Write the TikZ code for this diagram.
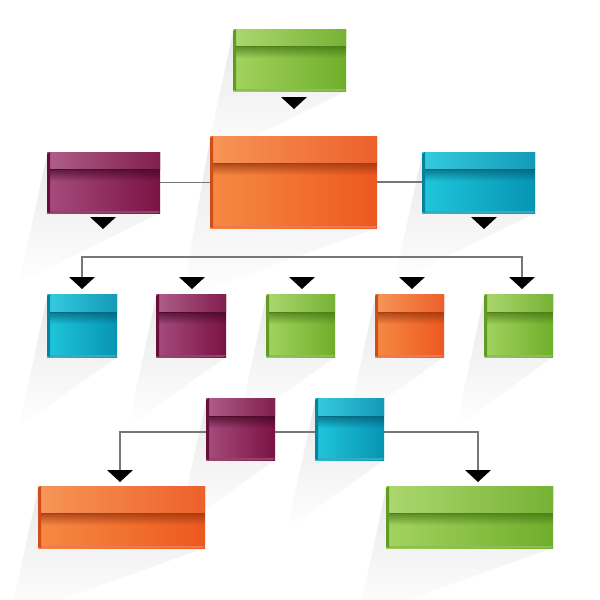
\documentclass[tikz,border=0pt]{standalone}
\usetikzlibrary{fadings,calc}
\pgfdeclarelayer{bg}
\pgfsetlayers{bg,main}
\definecolor{grnL}{HTML}{A3D35F}
\definecolor{grnR}{HTML}{6FAE2B}
\definecolor{grnD}{HTML}{3F6E12}
\definecolor{ornL}{HTML}{F68A45}
\definecolor{ornR}{HTML}{EC5820}
\definecolor{ornD}{HTML}{8E3008}
\definecolor{purL}{HTML}{A64C7E}
\definecolor{purR}{HTML}{7A1343}
\definecolor{purD}{HTML}{3E0620}
\definecolor{cynL}{HTML}{1FC6DC}
\definecolor{cynR}{HTML}{0794B3}
\definecolor{cynD}{HTML}{03586E}
\definecolor{lineC}{HTML}{777777}
\tikzfading[name=bandfade, top color=transparent!0, bottom color=transparent!100]
\tikzset{
  box/.style={rectangle, inner sep=0pt, outer sep=0pt, draw=none},
  conn/.style={lineC, line width=1.1pt},
}
% name, x1, y1, x2, y2, band, palette
\newcommand\orgbox[7]{%
  \begin{pgfonlayer}{bg}
    \fill[black, fill opacity=0.09, path fading=bandfade] (#2,#3+3) -- (#2-28,#5+70) -- (#4,#5) -- (#4,#3) -- cycle;
  \end{pgfonlayer}
  \node[box, left color=#7L, right color=#7R, minimum width={(#4-#2)*1pt}, minimum height={(#5-#3)*1pt}] (#1) at ({(#2+#4)/2},{(#3+#5)/2}) {};
  \shade[left color=#7L!90!white, right color=#7R!95!white] (#2,#3) rectangle (#4,#3+#6);
  \fill[#7D, opacity=.7, path fading=bandfade] (#2,#3+#6) rectangle (#4,#3+#6+12);
  \draw[#7D!70!#7R, line width=0.8pt] (#2,#3+#6) -- (#4,#3+#6);
  \fill[#7D!30!#7R] (#2,#3+2) -- (#2+3,#3) -- (#2+3,#5) -- (#2,#5-1) -- cycle;
  \fill[#7R!80!white] (#2+3,#5-2) -- (#4,#5-2) -- (#4-2,#5) -- (#2+3,#5) -- cycle;
}
\newcommand\tri[3]{%
  \coordinate (#1) at (#2,#3);
  \fill[black] (#1) ++(-13,0) -- ++(26,0) -- ++(-13,12) -- cycle;
}
\begin{document}
\begin{tikzpicture}[x=1pt, y=-1pt]
  \useasboundingbox (0,0) rectangle (600,600);
  \begin{pgfonlayer}{bg}
    \fill[white] (0,0) rectangle (600,600);
  \end{pgfonlayer}
  % row 1
  \orgbox{g0}{233}{29}{346}{91}{17}{grn}
  % row 2
  \orgbox{org}{210}{136}{377}{228}{27}{orn}
  \orgbox{p1}{47}{152}{160}{213}{17}{pur}
  \orgbox{c1}{422}{152}{535}{213}{17}{cyn}
  % row 3
  \orgbox{c3a}{47}{294}{117}{357}{18}{cyn}
  \orgbox{p3b}{156}{294}{226}{357}{18}{pur}
  \orgbox{g3c}{266}{294}{335}{357}{18}{grn}
  \orgbox{o3d}{375}{294}{444}{357}{18}{orn}
  \orgbox{g3e}{484}{294}{553}{357}{18}{grn}
  % row 4
  \orgbox{p4a}{206}{398}{275}{460}{18}{pur}
  \orgbox{c4b}{315}{398}{384}{460}{18}{cyn}
  % row 5
  \orgbox{o5a}{38}{486}{205}{548}{27}{orn}
  \orgbox{g5b}{386}{486}{553}{548}{27}{grn}
  % triangles
  \tri{t0}{294}{97}
  \tri{t1}{103}{217}
  \tri{t2}{484}{217}
  \tri{t3a}{82}{277}
  \tri{t3b}{192}{277}
  \tri{t3c}{302}{277}
  \tri{t3d}{412}{277}
  \tri{t3e}{522}{277}
  \tri{t5a}{120}{470}
  \tri{t5b}{478}{470}
  % connectors
  \draw[conn] (p1.east) -- (p1.east -| org.west);
  \draw[conn] (org.east) -- (org.east -| c1.west);
  \draw[conn] (t3a) -- ++(0,-20) -| (t3e);
  \draw[conn] ([yshift=-3pt]p4a.west) -| (t5a);
  \draw[conn] ([yshift=-3pt]p4a.east) -- ([yshift=-3pt]c4b.west);
  \draw[conn] ([yshift=-3pt]c4b.east) -| (t5b);
\end{tikzpicture}
\end{document}
